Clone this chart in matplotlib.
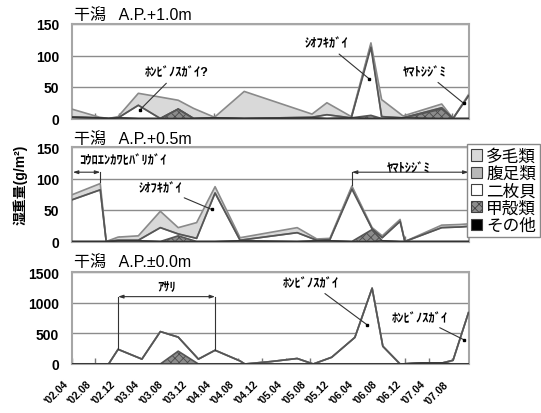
import numpy as np
import matplotlib
matplotlib.use('Agg')
import matplotlib.pyplot as plt
import matplotlib.transforms as mtransforms
from matplotlib.patches import Patch

plt.rcParams['font.family'] = ['Liberation Sans', 'Noto Sans CJK JP']
plt.rcParams['hatch.linewidth'] = 0.6

# x axis in months counted from 2002-04
tick_months = list(range(0, 65, 4))
tick_labels = ["'02.04", "'02.08", "'02.12", "'03.04", "'03.08", "'03.12",
               "'04.04", "'04.08", "'04.12", "'05.04", "'05.08", "'05.12",
               "'06.04", "'06.08", "'06.12", "'07.04", "'07.08"]
x_end = 66.7

# 干潟 A.P.+1.0m  (g/m2)
top_months = [0, 4.7, 6.2, 7.8, 11.2, 14.9, 17.9, 20.5, 24, 29, 40.4, 42.9, 47, 50.3, 52.1, 55.7, 62.2, 64.1, 66.7]
top_other  = [2, 1, 0, 1, 0, 0, 0, 0, 1, 0, 1, 0, 1, 0, 0, 1, 0, 0, 0]
top_crust  = [0, 0, 0, 0, 0, 0, 15, 0, 0, 0, 0, 0, 0, 5, 0, 0, 15, 0, 0]
top_bival  = [0, 0, 0, 0, 21, 0, 0, 0, 0, 0, 1, 6, 0, 108, 3, 0, 2, 0, 36]
top_gastro = [0, 0, 0, 0, 0, 0, 0, 0, 0, 0, 0, 0, 0, 4, 0, 0, 0, 0, 0]
top_poly   = [13, 1, 0, 2, 19, 34, 14, 16, 1, 43, 5, 19, 2, 3, 27, 3, 6, 0, 2]

# 干潟 A.P.+0.5m
mid_months = [0, 4.8, 5.8, 7.8, 11.2, 14.9, 17.9, 21, 24.1, 28.3, 37.9, 41.2, 43.4, 47.1, 50.5, 52.2, 55.2, 56, 62.2, 65.2, 66.7]
mid_other  = [0, 0, 0, 1, 1, 0, 0, 0, 0, 1, 0, 1, 1, 0, 0, 1, 0, 0, 0, 0, 0]
mid_crust  = [0, 0, 0, 0, 0, 0, 9, 0, 0, 0, 0, 0, 0, 0, 19, 0, 0, 0, 0, 0, 0]
mid_bival  = [66, 82, 0, 1, 1, 22, 3, 5, 77, 1, 14, 1, 2, 83, 1, 5, 32, 0, 22, 23, 24]
mid_gastro = [0, 0, 0, 0, 0, 0, 0, 0, 0, 0, 0, 0, 0, 3, 0, 0, 0, 0, 0, 0, 0]
mid_poly   = [8, 10, 0, 5, 7, 26, 10, 25, 10, 4, 8, 2, 2, 2, 2, 3, 3, 0, 4, 4, 4]

# 干潟 A.P.±0.0m
bot_months = [0, 4.7, 6.2, 7.8, 11.8, 14.9, 17.9, 21.3, 24.1, 28.3, 29.1, 33.5, 37.9, 40.6, 43.7, 47.6, 50.5, 52.3, 55.2, 59, 62.2, 64.1, 66.7]
bot_other  = [0, 0, 0, 0, 0, 0, 0, 0, 0, 0, 0, 0, 0, 0, 0, 0, 0, 0, 0, 15, 15, 0, 0]
bot_crust  = [0, 0, 0, 0, 0, 0, 210, 0, 0, 0, 0, 0, 0, 0, 0, 0, 0, 0, 0, 0, 0, 0, 0]
bot_bival  = [0, 0, 0, 240, 80, 530, 230, 80, 225, 50, 0, 40, 90, 0, 110, 435, 1240, 290, 0, 0, 0, 60, 840]
bot_gastro = [0] * len(bot_months)
bot_poly   = [0] * len(bot_months)

# stacked from the bottom up
groups = ['その他', '甲殻類', '二枚貝', '腹足類', '多毛類']
face = {'その他': 'black', '甲殻類': '#8c8c8c', '二枚貝': 'white',
        '腹足類': '#b8b8b8', '多毛類': '#d9d9d9'}
edge = {'その他': '#333333', '甲殻類': '#555555', '二枚貝': '#555555',
        '腹足類': '#8a8a8a', '多毛類': '#8a8a8a'}
hatch = {'甲殻類': 'xxxx'}
note_size = 9


def draw_stack(ax, months, layers):
    tops = []
    base = np.zeros(len(months))
    for name in groups:
        top = base + np.asarray(layers[name], dtype=float)
        ax.fill_between(months, base, top, facecolor=face[name],
                        edgecolor='#4a4a4a' if name in hatch else 'none',
                        hatch=hatch.get(name), linewidth=0, zorder=2)
        tops.append((name, top))
        base = top
    # outlines: upper layers first so the darker ones end up on top
    for name, top in reversed(tops):
        ax.plot(months, top, color=edge[name], lw=1.2, zorder=3)


def style_axis(ax, ymax, yticks, show_labels):
    ax.set_xlim(0, x_end)
    ax.set_ylim(0, ymax)
    ax.set_yticks(yticks)
    ax.set_xticks(tick_months)
    ax.grid(axis='y', color='#8c8c8c', lw=1.0, zorder=1)
    for s in ax.spines.values():
        s.set_color('#a6a6a6')
        s.set_linewidth(1.5)
    ax.tick_params(axis='y', length=0, pad=9, labelsize=10)
    ax.tick_params(axis='x', direction='in', length=4, color='#777777', width=1)
    for lab in ax.get_yticklabels():
        lab.set_fontweight('bold')
    if show_labels:
        ax.set_xticklabels(tick_labels, rotation=45, ha='right', va='center',
                           rotation_mode='anchor', fontsize=7.5, fontweight='bold')
        ax.tick_params(axis='x', pad=13)
        shift = mtransforms.ScaledTranslation(-4 / 72, 0, fig.dpi_scale_trans)
        for lab in ax.get_xticklabels():
            lab.set_transform(lab.get_transform() + shift)
    else:
        ax.set_xticklabels([])


def pointer(ax, text, xy_text, xy_tip):
    ax.annotate(text, xy=xy_tip, xytext=xy_text, ha='center', va='center',
                fontsize=note_size, fontweight='bold', zorder=5,
                arrowprops=dict(arrowstyle='-', color='#333333', lw=0.8,
                                shrinkA=2, shrinkB=0))
    ax.plot(*xy_tip, 's', ms=1.8, color='black', zorder=6)


def span(ax, x0, x1, y, drops):
    ax.annotate('', xy=(x1, y), xytext=(x0, y), zorder=5,
                arrowprops=dict(arrowstyle='<|-|>,head_length=0.3,head_width=0.1',
                                color='#333333', lw=0.8, shrinkA=0, shrinkB=0))
    for x, y_low in drops:
        ax.plot([x, x], [y, y_low], color='#333333', lw=0.8, zorder=5)


fig = plt.figure(figsize=(5.41, 4.14), dpi=100)
W, H = 541, 414
left, right = 71.7, 468.5


def add_axes(top_px, bottom_px):
    return fig.add_axes([left / W, 1 - bottom_px / H, (right - left) / W, (bottom_px - top_px) / H])


ax_top = add_axes(25, 119.5)
ax_mid = add_axes(148, 242.5)
ax_bot = add_axes(273.3, 365)

draw_stack(ax_top, top_months, {'その他': top_other, '甲殻類': top_crust, '二枚貝': top_bival,
                                '腹足類': top_gastro, '多毛類': top_poly})
draw_stack(ax_mid, mid_months, {'その他': mid_other, '甲殻類': mid_crust, '二枚貝': mid_bival,
                                '腹足類': mid_gastro, '多毛類': mid_poly})
draw_stack(ax_bot, bot_months, {'その他': bot_other, '甲殻類': bot_crust, '二枚貝': bot_bival,
                                '腹足類': bot_gastro, '多毛類': bot_poly})

style_axis(ax_top, 150, [0, 50, 100, 150], False)
style_axis(ax_mid, 150, [0, 50, 100, 150], False)
style_axis(ax_bot, 1500, [0, 500, 1000, 1500], True)

# species notes
pointer(ax_top, 'ﾎﾝﾋﾞﾉｽｶﾞｲ?', (17.7, 73), (11.4, 13))
pointer(ax_top, 'ｼｵﾌｷｶﾞｲ', (42.8, 119), (50.0, 63))
pointer(ax_top, 'ﾔﾏﾄｼｼﾞﾐ', (59.4, 74), (65.9, 24))

ax_mid.text(8.6, 129, 'ｺｳﾛｴﾝｶﾜﾋﾊﾞﾘｶﾞｲ', ha='center', va='center', fontsize=note_size, fontweight='bold')
span(ax_mid, 0.2, mid_months[1], 110, [(mid_months[1], 95)])
pointer(ax_mid, 'ｼｵﾌｷｶﾞｲ', (15, 85), (23.5, 51))
ax_mid.text(56.7, 117, 'ﾔﾏﾄｼｼﾞﾐ', ha='center', va='center', fontsize=note_size, fontweight='bold')
span(ax_mid, mid_months[13], x_end, 110, [(mid_months[13], 90)])

ax_bot.text(15.9, 1258, 'ｱｻﾘ', ha='center', va='center', fontsize=note_size, fontweight='bold')
span(ax_bot, bot_months[3], bot_months[8], 1102, [(bot_months[3], 240), (bot_months[8], 225)])
pointer(ax_bot, 'ﾎﾝﾋﾞﾉｽｶﾞｲ', (40.2, 1323), (49.6, 645))
pointer(ax_bot, 'ﾎﾝﾋﾞﾉｽｶﾞｲ', (58.5, 758), (66.0, 392))

# panel titles
for y_px, title in [(15, '干潟   A.P.+1.0m'), (139, '干潟   A.P.+0.5m'), (262, '干潟   A.P.±0.0m')]:
    fig.text(74 / W, 1 - y_px / H, title, ha='left', va='center', fontsize=11.5)

fig.text(20 / W, 1 - 185 / H, '湿重量(g/m²)', rotation=90, ha='center', va='center',
         fontsize=10, fontweight='bold')

legend_order = ['多毛類', '腹足類', '二枚貝', '甲殻類', 'その他']
handles = [Patch(facecolor=face[n], edgecolor='#404040', hatch=hatch.get(n), lw=0.8) for n in legend_order]
fig.legend(handles, legend_order, loc='upper left', bbox_to_anchor=(467 / W, 1 - 145 / H),
           borderaxespad=0, borderpad=0.25, handletextpad=0.25, handlelength=0.65,
           handleheight=0.65, labelspacing=0.12, fontsize=12, fancybox=False,
           edgecolor='#888888', framealpha=1)

fig.savefig('out.png', dpi=100)
